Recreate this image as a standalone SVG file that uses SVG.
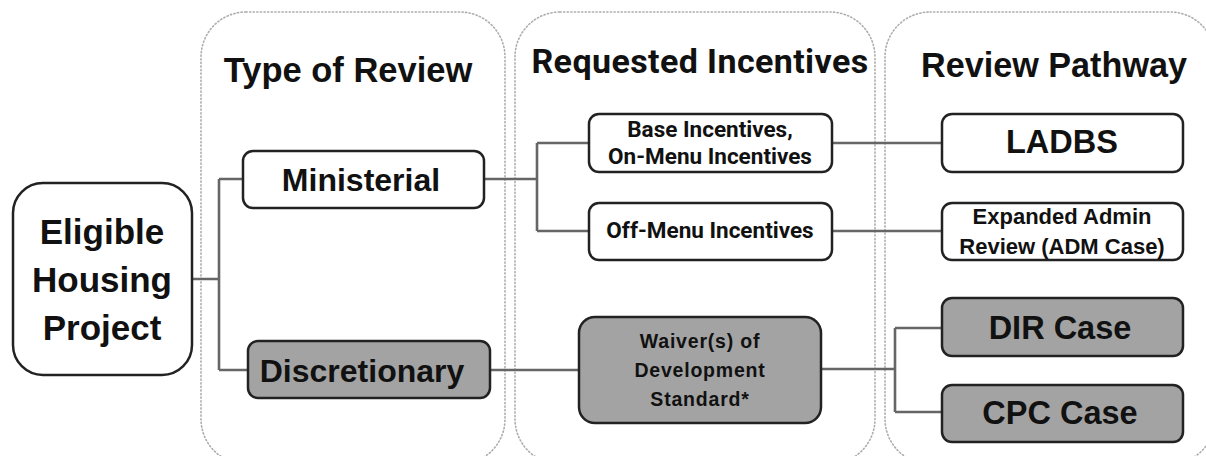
<svg xmlns="http://www.w3.org/2000/svg" width="1206" height="456" viewBox="0 0 1206 456">
<style>
.panel{fill:none;stroke:#adadad;stroke-width:1.6;stroke-dasharray:1.2 2.4;stroke-linecap:round}
.box{fill:#fff;stroke:#222;stroke-width:2.5}
.gbox{fill:#a3a3a3;stroke:#222;stroke-width:2.5}
.conn{fill:none;stroke:#666;stroke-width:2.6}
.t{font-family:"Liberation Sans",Arial,sans-serif;font-weight:bold;fill:#111;text-anchor:middle}
.r{font-family:Roboto,"Liberation Sans",sans-serif;font-weight:bold;fill:#111;text-anchor:middle}
</style>
<rect width="1206" height="456" fill="#fff"/>
<g id="panels">
<rect class="panel" x="201" y="12" width="304" height="452" rx="45"/>
<rect class="panel" x="515" y="12" width="360" height="452" rx="45"/>
<rect class="panel" x="885" y="12" width="330" height="452" rx="45"/>
<text class="t" x="348" y="82" font-size="34.5">Type of Review</text>
<text class="r" x="700" y="73" font-size="34" letter-spacing="0.4">Requested Incentives</text>
<text class="t" x="1054" y="77" font-size="34.2">Review Pathway</text>
</g>
<g id="connectors">
<path class="conn" d="M192,279 H219 M219,179 V370 M219,179 H243 M219,370 H248"/>
<path class="conn" d="M484,179 H537 M537,143 V231 M537,143 H589 M537,231 H589"/>
<path class="conn" d="M832,143 H942 M832,231 H942"/>
<path class="conn" d="M490,370 H579"/>
<path class="conn" d="M821,369 H895 M895,328 V412 M895,328 H942 M895,412 H942"/>
</g>
<g id="eligible">
<rect class="box" x="13" y="183" width="179" height="192" rx="30"/>
<text class="t" x="102" y="244" font-size="35">Eligible</text>
<text class="t" x="102" y="292" font-size="35">Housing</text>
<text class="t" x="102" y="340" font-size="35">Project</text>
</g>
<g id="ministerial">
<rect class="box" x="243" y="151" width="241" height="57" rx="10"/>
<text class="t" x="361" y="191" font-size="32">Ministerial</text>
</g>
<g id="discretionary">
<rect class="gbox" x="248" y="341" width="242" height="57" rx="10"/>
<text class="t" x="362" y="382" font-size="32">Discretionary</text>
</g>
<g id="base">
<rect class="box" x="589" y="114" width="243" height="58" rx="10"/>
<text class="r" x="710" y="137" font-size="22.5">Base Incentives,</text>
<text class="r" x="710" y="164" font-size="22.5">On-Menu Incentives</text>
</g>
<g id="offmenu">
<rect class="box" x="589" y="203" width="243" height="57" rx="10"/>
<text class="r" x="710" y="238" font-size="22.5">Off-Menu Incentives</text>
</g>
<g id="waiver">
<rect class="gbox" x="579" y="317" width="242" height="106" rx="16"/>
<text class="t" x="700" y="348" font-size="19.5" letter-spacing="0.8">Waiver(s) of</text>
<text class="t" x="700" y="377" font-size="19.5" letter-spacing="0.8">Development</text>
<text class="t" x="700" y="406" font-size="19.5" letter-spacing="0.8">Standard*</text>
</g>
<g id="ladbs">
<rect class="box" x="942" y="114" width="241" height="58" rx="10"/>
<text class="t" x="1062" y="153" font-size="32.5">LADBS</text>
</g>
<g id="adm">
<rect class="box" x="942" y="203" width="241" height="57" rx="10"/>
<text class="t" x="1062" y="224" font-size="22">Expanded Admin</text>
<text class="t" x="1062" y="254" font-size="22">Review (ADM Case)</text>
</g>
<g id="dir">
<rect class="gbox" x="942" y="298" width="241" height="58" rx="10"/>
<text class="t" x="1060" y="339" font-size="32.5">DIR Case</text>
</g>
<g id="cpc">
<rect class="gbox" x="942" y="385" width="241" height="57" rx="10"/>
<text class="t" x="1060" y="424" font-size="32.5">CPC Case</text>
</g>
</svg>
